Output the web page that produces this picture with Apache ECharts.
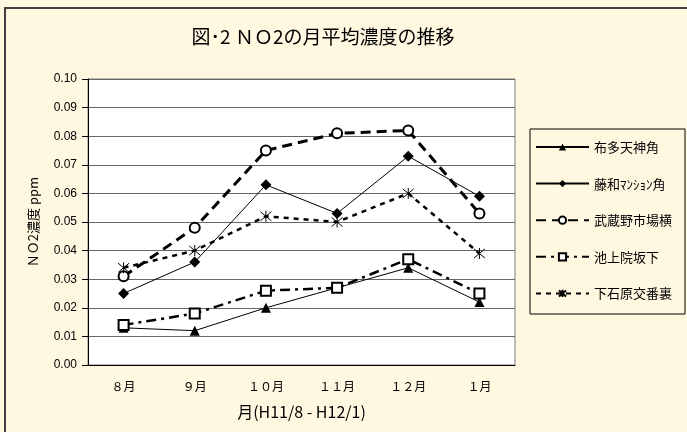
<!DOCTYPE html>
<html><head><meta charset="utf-8">
<script src="https://cdn.jsdelivr.net/npm/echarts@6/dist/echarts.min.js"></script>
<style>html,body{margin:0;padding:0;background:#FFF7E0}#c{width:687px;height:432px}</style>
</head><body><div id="c"></div>
<script>
const months = ['８月','９月','１０月','１１月','１２月','１月'];
const fuda = [0.013, 0.012, 0.020, 0.027, 0.034, 0.022];
const towa = [0.025, 0.036, 0.063, 0.053, 0.073, 0.059];
const musashino = [0.031, 0.048, 0.075, 0.081, 0.082, 0.053];
const ikegami = [0.014, 0.018, 0.026, 0.027, 0.037, 0.025];
const shimoishi = [0.034, 0.040, 0.052, 0.050, 0.060, 0.039];
const names = ['布多天神角','藤和ﾏﾝｼｮﾝ角','武蔵野市場横','池上院坂下','下石原交番裏'];
const yTicks = [0, 0.01, 0.02, 0.03, 0.04, 0.05, 0.06, 0.07, 0.08, 0.09, 0.10];

const jp = '"Noto Sans CJK JP", sans-serif';
const star = 'path://M0,0L10,10M10,0L0,10M5,-1L5,11';

function mk(name, data, lineStyle, symbol, size, itemStyle){
  return {name, type:'line', data, symbol, symbolSize:size, lineStyle, itemStyle,
    showAllSymbol:true, animation:false, z: 3};
}
const chart = echarts.init(document.getElementById('c'));
chart.setOption({
  backgroundColor:'#FFF7E0',
  animation:false,
  title:{text:'図･2 ＮＯ2の月平均濃度の推移', left:318, top:22, textAlign:'center',
    textStyle:{fontFamily:jp, fontSize:19, fontWeight:'normal', color:'#000'}},
  grid:{left:88, right:172, top:79, bottom:67, show:true, backgroundColor:'#fff', borderColor:'#808080', borderWidth:1},
  legend:{orient:'vertical', left:535, top:140, padding:0, itemWidth:53, itemHeight:9, itemGap:22.6,
    textStyle:{fontFamily:jp, fontSize:13, color:'#000', lineHeight:14, height:14},
    data:names},
  xAxis:{type:'category', data:months, boundaryGap:true,
    axisLine:{lineStyle:{color:'#000', width:1}},
    axisTick:{inside:true, length:4, lineStyle:{color:'#000'}},
    axisLabel:{fontFamily:jp, fontSize:12, color:'#000', margin:15},
    name:'月(H11/8 - H12/1)', nameLocation:'middle', nameGap:39,
    nameTextStyle:{fontFamily:jp, fontSize:16, color:'#000'}},
  yAxis:{type:'value', min:yTicks[0], max:yTicks[yTicks.length-1], interval:0.01,
    axisLine:{show:true, lineStyle:{color:'#000'}},
    axisTick:{show:true, length:6, lineStyle:{color:'#000'}},
    axisLabel:{fontFamily:'"Liberation Sans", Arial, sans-serif', fontSize:12, color:'#000', margin:11,
      formatter:v=>v.toFixed(2)},
    splitLine:{lineStyle:{color:'#666', width:1}},
    name:'ＮＯ2濃度 ppm', nameLocation:'middle', nameGap:48,
    nameTextStyle:{fontFamily:jp, fontSize:13, color:'#000'}},
  graphic:[
    {type:'rect', shape:{x:530, y:129, width:155, height:185}, style:{fill:'#FFF7E0', stroke:'#000', lineWidth:1}, z:-1},
    {type:'line', shape:{x1:5, y1:8, x2:5, y2:432}, style:{stroke:'#404040', lineWidth:2}},
    {type:'line', shape:{x1:4, y1:8, x2:687, y2:8}, style:{stroke:'#404040', lineWidth:2}}
  ],
  series:[
    mk(names[0], fuda, {color:'#000', width:1, type:'solid'}, 'triangle', 10, {color:'#000'}),
    mk(names[1], towa, {color:'#000', width:1, type:'solid'}, 'diamond', 11, {color:'#000'}),
    mk(names[2], musashino, {color:'#000', width:3, type:[10,6]}, 'emptyCircle', 10, {color:'#000', borderColor:'#000', borderWidth:1, borderType:'solid'}),
    mk(names[3], ikegami, {color:'#000', width:2.5, type:[10,5,3,5]}, 'emptyRect', 10, {color:'#000', borderColor:'#000', borderWidth:1, borderType:'solid'}),
    mk(names[4], shimoishi, {color:'#000', width:2.5, type:[5,5]}, star, 11, {color:'transparent', borderColor:'#000', borderWidth:1, borderType:'solid'})
  ]
});
</script></body></html>
